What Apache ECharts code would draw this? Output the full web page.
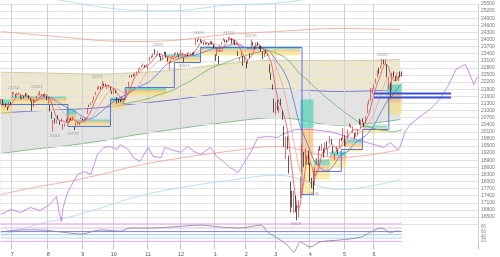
<!DOCTYPE html>
<html><head><meta charset="utf-8">
<script src="https://cdn.jsdelivr.net/npm/echarts@6/dist/echarts.min.js"></script>
<style>html,body{margin:0;padding:0;background:#fff}#c{width:500px;height:257px}</style>
</head><body><div id="c"></div>
<script>
// ---- tick labels ----
const monthLabels = ['7','8','9','10','11','12','1','2','3','4','5','6'];
const monthStartIdx = [7,29,50,69,90,110,131,150,168,189,210,228];
const slotCount = 292;

// ---- daily candles [open, close, low, high] ----
const jun19=[[21330,21462,21250,21500],[21430,21258,21230,21480],[21250,21285,21200,21320],[21260,21193,21150,21300],[21100,21086,21010,21150],[21150,21338,21120,21360],[21330,21275,21240,21360]];
const jul19=[[21600,21729,21580,21780],[21720,21754,21690,21790],[21650,21638,21580,21700],[21690,21702,21650,21740],[21720,21746,21700,21760],[21620,21534,21500,21650],[21500,21565,21470,21590],[21560,21533,21510,21620],[21660,21643,21600,21730],[21660,21685,21610,21720],[21600,21535,21490,21650],[21480,21469,21400,21520],[21400,20996,20980,21420],[21150,21466,21140,21480],[21400,21416,21330,21460],[21450,21620,21440,21630],[21650,21709,21620,21740],[21710,21756,21650,21823],[21640,21658,21580,21700],[21650,21616,21580,21680],[21580,21709,21570,21730],[21600,21521,21440,21620]];
const aug19=[[21300,21540,21290,21580],[21200,21087,20960,21230],[20940,20720,20650,20950],[20400,20585,20110,20600],[20660,20516,20450,20680],[20500,20593,20450,20620],[20770,20684,20630,20800],[20500,20455,20400,20570],[20600,20655,20550,20680],[20350,20405,20180,20440],[20400,20418,20320,20460],[20580,20563,20530,20630],[20600,20677,20580,20720],[20580,20618,20500,20650],[20670,20628,20580,20700],[20600,20710,20590,20740],[20270,20261,20173,20300],[20360,20456,20350,20480],[20420,20479,20400,20500],[20450,20460,20380,20500],[20650,20704,20640,20730]];
const sep19=[[20650,20620,20580,20670],[20580,20625,20530,20650],[20640,20649,20600,20700],[20860,21086,20850,21090],[21200,21199,21160,21240],[21250,21318,21220,21340],[21360,21392,21330,21430],[21450,21597,21440,21610],[21700,21759,21650,21800],[21880,21988,21860,22000],[21980,22001,21900,22040],[21960,21960,21900,22020],[21960,22044,21930,22255],[22100,22079,22030,22150],[22110,22098,22050,22130],[21970,22020,21900,22040],[22000,22048,21970,22080],[21940,21878,21840,22000],[21800,21756,21700,21830]];
const oct19=[[21760,21885,21700,21920],[21800,21778,21730,21850],[21550,21341,21300,21560],[21440,21410,21330,21470],[21460,21375,21340,21480],[21400,21587,21390,21600],[21350,21456,21330,21480],[21510,21551,21440,21560],[21700,21798,21650,21850],[21950,22207,21940,22220],[22420,22472,22380,22500],[22460,22451,22400,22500],[22500,22492,22440,22530],[22500,22548,22470,22580],[22580,22625,22540,22650],[22650,22750,22620,22770],[22770,22799,22740,22830],[22880,22867,22840,22900],[22900,22974,22880,22990],[22900,22843,22820,22920],[22880,22927,22840,22950]];
const nov19=[[22780,22850,22750,22880],[23100,23251,23080,23260],[23270,23303,23200,23330],[23280,23330,23250,23400],[23460,23391,23360,23591],[23320,23331,23280,23380],[23420,23520,23380,23530],[23400,23319,23250,23420],[23250,23141,23100,23300],[23230,23303,23140,23320],[23420,23416,23360,23480],[23450,23292,23240,23480],[23230,23148,23060,23240],[23000,23038,22726,23080],[23100,23112,23010,23140],[23250,23292,23220,23320],[23390,23373,23340,23410],[23420,23437,23380,23460],[23420,23409,23360,23450],[23330,23293,23250,23360]];
const dec19=[[23330,23529,23310,23550],[23350,23379,23280,23420],[23150,23135,23044,23230],[23260,23300,23240,23370],[23400,23354,23310,23420],[23430,23430,23400,23460],[23390,23410,23340,23430],[23400,23391,23350,23440],[23450,23424,23370,23480],[23800,24023,23760,24050],[23960,23952,23900,24000],[24020,24066,23990,24091],[24000,23934,23900,24020],[23880,23864,23830,23920],[23850,23816,23780,23880],[23830,23821,23790,23870],[23820,23830,23780,23850],[23810,23782,23760,23830],[23810,23924,23800,23940],[23900,23837,23800,23920],[23770,23656,23640,23800]];
const jan20=[[23320,23204,23100,23370],[23320,23575,23300,23600],[23220,23204,22951,23300],[23530,23739,23500,23760],[23820,23850,23780,23900],[23970,24025,23950,24060],[23980,23916,23880,24000],[23950,23933,23880,23980],[24000,24041,23980,24115],[24050,24083,24020,24100],[24040,23864,23830,24060],[23830,24031,23820,24040],[23950,23795,23760,23970],[23800,23827,23760,23870],[23470,23343,23300,23500],[23160,23215,23100,23260],[23360,23379,23280,23450],[23290,22977,22890,23310],[23120,23205,23050,23300]];
const feb20=[[22980,22971,22780,23090],[23050,23084,22970,23140],[23320,23319,23220,23420],[23640,23873,23620,23995],[23870,23827,23740,23900],[23700,23685,23600,23730],[23720,23861,23690,23880],[23850,23827,23740,23900],[23700,23687,23600,23730],[23720,23523,23500,23730],[23480,23193,23170,23500],[23300,23400,23260,23450],[23500,23479,23400,23540],[23380,23386,23300,23420],[22900,22605,22600,22950],[22500,22426,22290,22600],[22080,21948,21880,22100],[21500,21142,20920,21500]];
const mar20=[[20850,21344,20830,21360],[21400,21082,21000,21460],[20900,21100,20900,21200],[21450,21329,21220,21500],[20980,20749,20600,21000],[20350,19698,19470,20350],[19200,19867,18950,19900],[19800,19416,19350,19900],[19000,18559,18340,19100],[17600,17431,16690,18000],[17500,17002,16900,17600],[16900,17011,16660,17600],[17300,16726,16700,17400],[16600,16552,16358,17000],[16570,16887,16480,17200],[17450,18092,17300,18200],[18450,19546,18400,19560],[19100,18664,18600,19250],[18800,19389,18700,19400],[18900,19084,18700,19100],[19000,18917,18700,19300]];
const apr20=[[18800,18065,18000,18800],[17900,17818,17710,18150],[17950,17820,17646,18000],[17900,18576,17850,18600],[18900,18950,18700,19000],[18900,19353,18700,19400],[19400,19345,19300,19500],[19400,19498,19300,19600],[19300,19043,19000,19400],[19250,19639,19200,19650],[19600,19550,19400,19700],[19200,19291,19100,19400],[19700,19897,19600,19920],[19700,19669,19580,19800],[19400,19281,19200,19500],[19100,19137,18900,19200],[19300,19429,19250,19500],[19300,19262,19150,19350],[19500,19783,19450,19800],[19800,19771,19700,19850],[19800,20194,19750,20260]];
const may20=[[19900,19619,19500,19950],[19580,19674,19450,19750],[19800,20179,19790,20200],[20380,20390,20300,20470],[20300,20366,20260,20400],[20100,20267,20050,20330],[19980,19914,19800,20050],[20000,20037,19900,20100],[20050,20133,19950,20200],[20600,20433,20400,20650],[20300,20595,20260,20600],[20600,20552,20500,20670],[20450,20388,20300,20500],[20500,20741,20450,20760],[20900,21271,20880,21300],[21300,21419,21250,21470],[21450,21916,21400,21950],[21800,21877,21700,21950]];
const jun20=[[21950,22062,21900,22100],[22200,22325,22150,22350],[22500,22613,22400,22700],[22750,22695,22550,22800],[22800,22863,22750,22900],[22950,23178,22900,23185],[23100,23091,22950,23150],[23050,23124,22950,23150],[22900,22472,22400,22950],[22100,22305,21900,22400],[22100,21530,21500,22200],[21900,22582,21850,22600],[22600,22455,22400,22650],[22400,22355,22250,22450],[22400,22478,22350,22550],[22300,22437,22250,22450],[22550,22549,22400,22650],[22600,22534,22450,22650]];

// ---- long-term band lines (slot index, value) ----
const bandIdx = [0,20,41,61,81,104,138,169,207,244];
const bandUp3 = [26057,25829,25605,25373,25235,25214,25446,25542,25827,25689];
const bandUp2 = [24337,24211,24084,23957,23915,23957,24211,24337,24464,24422];
const bandUp1 = [22616,22595,22563,22542,22595,22700,22975,23123,23102,23154];
const bandMid = [20894,20979,21042,21126,21274,21443,21739,21908,21802,21887];
const bandDn1 = [19183,19362,19521,19711,19954,20186,20503,20693,20376,20619];
const bandDn2 = [17451,17746,18000,18296,18634,18929,19267,19479,19014,19352];
const bandDn3 = [15718,16141,16479,16880,17324,17672,18032,18264,17662,18084];

// ---- comparison line (purple) ----
const purpleIdx = [0,6,12,18,24,30,34,35.5,37,38,41,47,51,55,59,63,67,71,73,78,81,85,90,93,98,100,104,110,114,118,122,128,132,136,140,145,148,153,157,163,169,172,180,189,201,213,228,234,238,242,244,247,250,256,262,268,273,278,281,284,287,289,291,295,298,301,304];
const purpleVal = [16610,16820,16690,16900,16775,17030,17370,16730,16310,16900,17580,18300,18420,18300,19140,19440,19480,19350,19560,19350,19010,18840,19440,19060,19010,19440,19350,19230,19480,19270,19140,19440,19060,18840,18590,18380,18720,19270,19860,19900,19860,19990,20200,20200,20110,19860,19560,19440,19650,19350,19480,20110,20410,20740,21040,21460,22010,22730,22860,22940,22440,22100,22390,22520,22730,22600,22820];

// ---- step band boxes [startSlot, endSlot, low, high] ----
const boxes = [[0,6,20831,21464],[6,40,21295,21591],[40,46,20324,21042],[46,67,20366,20619],[67,76,21042,21549],[76,101,21633,21971],[101,122,22986,23366],[122,183,23324,23704],[183,191,17451,21464],[191,201,18084,18929],[201,211,18591,19267],[211,221,19267,19774],[221,236,20070,20366],[236,245,20831,22098]];
// ---- blue step line ----
const stepIdx = [0,41,67,76,106,122,184,191,208,221,237,245];
const stepVal = [21253,20324,21464,21971,23028,23661,17451,18422,19352,20197,21549,21549];
// ---- horizontal blue levels ----
const levelVals = [21718,21549];
const levelFrom = 228, levelTo = 275;

// ---- price annotations [slot, value, text, side] ----
const notes = [[8,21790,'21754','top'],[22,21823,'21823','top'],[33,20110,'20110','bottom'],[44,20173,'20173','bottom'],[59,22255,'22255','top'],[96,23591,'23591','top'],[112,23044,'23044','bottom'],[121,24091,'24091','top'],[139,24115,'24115','top'],[153,23995,'23995','top'],[180,16358,'16358','bottom'],[191,17646,'17646','bottom'],[233,23185,'23185','top']];

// ---- oscillator (lower panel) ----
const oscIdx = [0,12,24,37,49,61,73,79,92,104,122,134,146,159,163,169,175,179,183,189,195,207,220,226,232,235,238,241,244];
const oscVal = [58,67,67,58,50,67,62,75,75,79,87,79,75,87,58,33,4,-25,17,-4,17,25,37,58,75,67,54,62,62];
const oscLevels = [92,75,60,47,33,19];
const oscLevelColors = ['#f0a8e8','#e8b8f0','#8080e0','#a0c8f0','#b0d8f0','#f0a8e8'];

// ================= build =================
const candles = [].concat(jun19,jul19,aug19,sep19,oct19,nov19,dec19,jan20,feb20,mar20,apr20,may20,jun20);
const cats = Array.from({length: slotCount}, (_, i) => 'd' + i);
const monthMap = new Map(monthStartIdx.map((v, i) => [v, monthLabels[i]]));
const isMonth = (i) => monthMap.has(i);
const pairs = (xs, ys) => xs.map((x, i) => [x, ys[i]]);
function sma(n) {
  return candles.map((d, i) => {
    if (i < n - 1) return null;
    let s = 0; for (let k = i - n + 1; k <= i; k++) s += candles[k][1];
    return Math.round(s / n);
  });
}

const bandLine = (data, color, w, area) => ({
  type: 'line', xAxisIndex: 1, yAxisIndex: 0, data: data, smooth: 0.4, symbol: 'none', clip: false,
  lineStyle: {color: color, width: w}, z: area ? 1 : 3, silent: true,
  areaStyle: area ? {color: area, opacity: 1, origin: 'start'} : undefined
});

const chart = echarts.init(document.getElementById('c'), null, {width: 500, height: 257});
const option = {
  animation: false,
  backgroundColor: '#fff',
  textStyle: {fontFamily: 'Liberation Sans, Arial, sans-serif'},
  grid: [
    {left: 0, top: 4, width: 478, height: 220.1},
    {left: 0, top: 222, width: 478, height: 24}
  ],
  xAxis: [
    {type: 'category', gridIndex: 0, data: cats, z: 2,
      axisLine: {show: false}, axisTick: {show: false}, axisLabel: {show: false},
      splitLine: {show: true, interval: isMonth, lineStyle: {color: '#d0d0d0', width: 1}}},
    {type: 'value', gridIndex: 0, min: -0.5, max: slotCount - 0.5, show: false},
    {type: 'category', gridIndex: 1, data: cats, z: 2,
      axisLine: {show: false},
      axisTick: {show: true, interval: isMonth, length: 3, lineStyle: {color: '#bbb'}},
      axisLabel: {interval: isMonth, formatter: (v, i) => monthMap.get(i) || '', fontSize: 5.5, color: '#555', margin: 5},
      splitLine: {show: true, interval: isMonth, lineStyle: {color: '#d0d0d0', width: 1}}},
    {type: 'value', gridIndex: 1, min: -0.5, max: slotCount - 0.5, show: false}
  ],
  yAxis: [
    {type: 'value', gridIndex: 0, position: 'right', min: 16200, max: 25500, interval: 300, z: 2,
      axisLine: {show: false}, axisTick: {show: false},
      axisLabel: {fontSize: 5, color: '#777', margin: 3, showMinLabel: false, formatter: v => String(v)},
      splitLine: {lineStyle: {color: '#e2e2e2', width: 1}}},
    {type: 'value', gridIndex: 1, position: 'right', min: 0, max: 100, interval: 20,
      axisLine: {show: false}, axisTick: {show: false},
      axisLabel: {fontSize: 4.5, color: '#888', margin: 3},
      splitLine: {show: false}}
  ],
  series: [
    bandLine(pairs(bandIdx, bandUp1), '#c9c08a', 0.8, '#ece7cd'),
    bandLine(pairs(bandIdx, bandMid), '#7f78cf', 1, '#e3e3e3'),
    bandLine(pairs(bandIdx, bandDn1), '#6fae76', 0.8, '#ffffff'),
    bandLine(pairs(bandIdx, bandUp2), '#ef9f92', 0.8),
    bandLine(pairs(bandIdx, bandDn2), '#ef9f92', 0.8),
    bandLine(pairs(bandIdx, bandUp3), '#a9d8ef', 0.8),
    bandLine(pairs(bandIdx, bandDn3), '#a9d8ef', 0.8),
    {type: 'custom', xAxisIndex: 1, yAxisIndex: 0, data: boxes, z: 2, silent: true,
      renderItem: (params, api) => {
        const p0 = api.coord([api.value(0), api.value(3)]);
        const p1 = api.coord([api.value(1), api.value(2)]);
        const w = p1[0] - p0[0], h = p1[1] - p0[1];
        return {type: 'group', children: [
          {type: 'rect', shape: {x: p0[0], y: p0[1], width: w, height: h * 0.3}, style: {fill: 'rgba(90,210,180,0.75)'}},
          {type: 'rect', shape: {x: p0[0], y: p0[1] + h * 0.3, width: w, height: h * 0.3}, style: {fill: 'rgba(250,170,80,0.55)'}},
          {type: 'rect', shape: {x: p0[0], y: p0[1] + h * 0.6, width: w, height: h * 0.4}, style: {fill: 'rgba(248,222,110,0.55)'}}
        ]};
      }},
    {type: 'line', xAxisIndex: 1, yAxisIndex: 0, data: pairs(stepIdx, stepVal), step: 'end', symbol: 'none',
      lineStyle: {color: '#4866e0', width: 0.9}, z: 4, silent: true},
    {type: 'line', xAxisIndex: 1, yAxisIndex: 0, data: pairs(purpleIdx, purpleVal), symbol: 'none', clip: false,
      lineStyle: {color: '#b874e8', width: 0.8}, z: 3, silent: true},
    {type: 'line', data: sma(75), symbol: 'none', lineStyle: {color: '#5aa95a', width: 0.7}, z: 4, silent: true},
    {type: 'line', data: sma(25), symbol: 'none', lineStyle: {color: '#4a64d8', width: 0.7}, z: 4, silent: true},
    {type: 'line', data: sma(13), symbol: 'none', lineStyle: {color: '#f29a9a', width: 0.7}, z: 4, silent: true},
    {type: 'line', data: sma(5), symbol: 'none', lineStyle: {color: '#e83b3b', width: 0.7}, z: 4, silent: true},
    {type: 'candlestick', data: candles, barWidth: 1.3, z: 5, silent: true,
      itemStyle: {color: '#ffffff', color0: '#111', borderColor: '#e83030', borderColor0: '#111', borderWidth: 0.7}},
    ...levelVals.map(v => ({type: 'line', xAxisIndex: 1, yAxisIndex: 0, data: [[levelFrom, v], [levelTo, v]], symbol: 'none',
      lineStyle: {color: '#3d52d6', width: 1.8}, z: 6, silent: true})),
    {type: 'scatter', xAxisIndex: 1, yAxisIndex: 0, data: notes.map(n => ({value: n, label: {position: n[3]}})), symbolSize: 0, z: 7, silent: true,
      label: {show: true, formatter: p => p.data.value[2], distance: 2, fontSize: 4, color: '#888'},
      encode: {x: 0, y: 1}},
    ...oscLevels.map((v, k) => ({type: 'line', xAxisIndex: 3, yAxisIndex: 1, data: [[0, v], [245, v]], symbol: 'none',
      lineStyle: {color: oscLevelColors[k], width: 1}, z: 3, silent: true})),
    {type: 'line', xAxisIndex: 3, yAxisIndex: 1, data: pairs(oscIdx, oscVal), smooth: 0.3, symbol: 'none', clip: false,
      lineStyle: {color: '#8a8aa0', width: 0.9}, z: 4, silent: true}
  ]
};
chart.setOption(option);
</script>
</body></html>
